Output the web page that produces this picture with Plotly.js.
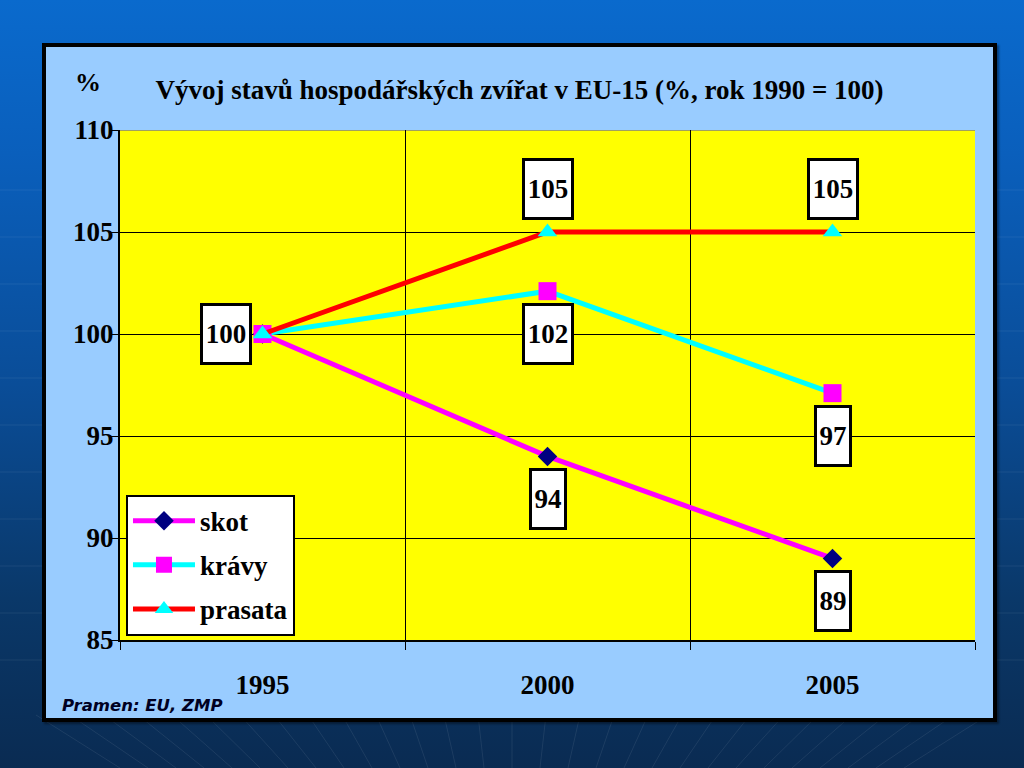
<!DOCTYPE html>
<html>
<head>
<meta charset="utf-8">
<script src="https://cdn.plot.ly/plotly-3.0.1.min.js"></script>
<style>
  html, body { margin: 0; padding: 0; width: 1024px; height: 768px; overflow: hidden; }
  body { background: linear-gradient(to bottom, #0a6acd 0%, #0a5fbc 20%, #0a4d98 50%, #0a3869 78%, #0a2b52 100%); position: relative; }
  #bg { position: absolute; left: 0; top: 0; }
  #chart { position: absolute; left: 42px; top: 43px; width: 947px; height: 671px; border: 4px solid #000; background: #99ccff; box-shadow: 2px 2px 2px rgba(0,0,0,0.4); }
</style>
</head>
<body>
<svg id="bg" width="1024" height="768"></svg>
<div id="chart"></div>
<script>
// ---- data ----
const categories = ['1995', '2000', '2005'];
const seriesNames = ['skot', 'krávy', 'prasata'];
const skot = [100, 94, 89];
const kravy = [100, 102.1, 97.1];
const prasata = [100, 105, 105];
const yTickVals = [85, 90, 95, 100, 105, 110];
const titleText = 'Vývoj stavů hospodářských zvířat v EU-15 (%, rok 1990 = 100)';
const unitText = '%';
const sourceText = 'Pramen: EU, ZMP';

// ---- decorative slide background (faint lines) ----
(function () {
  const svg = document.getElementById('bg');
  let s = '';
  for (let y = 190; y < 700; y += 47) {
    s += '<line x1="0" y1="' + y + '" x2="1024" y2="' + y + '" stroke="rgba(255,255,255,0.07)" stroke-width="1"/>';
  }
  for (let k = -14; k <= 14; k++) {
    const xt = 512 + k * 34;
    const xb = 512 + k * 28;
    s += '<line x1="' + xt + '" y1="715" x2="' + xb + '" y2="768" stroke="rgba(255,255,255,0.08)" stroke-width="1"/>';
  }
  svg.innerHTML = s;
})();

// ---- styling ----
const serif = 'Liberation Serif, Times New Roman, serif';
const xIdx = categories.map((c, i) => i);

const styles = [
  { line: '#ff00ff', marker: '#000080', symbol: 'diamond', size: 15 },
  { line: '#00ffff', marker: '#ff00ff', symbol: 'square', size: 18 },
  { line: '#ff0000', marker: '#00ffff', symbol: 'triangle-up', size: 17 }
];
const seriesData = [skot, kravy, prasata];

const traces = seriesData.map((vals, s) => ({
  type: 'scatter',
  mode: 'lines+markers',
  x: xIdx,
  y: vals,
  name: '<b>' + seriesNames[s] + '</b>',
  legendgroup: 'g' + s,
  line: { color: styles[s].line, width: 5 },
  marker: { color: styles[s].marker, symbol: styles[s].symbol, size: styles[s].size, line: { width: 0 } },
  hoverinfo: 'x+y'
}));

// label placement per series and category
const labelPlacement = [
  [null, 'below', 'below'],
  [null, 'below', 'below'],
  ['left', 'above', 'above']
];

const annotations = [];
seriesData.forEach((vals, s) => {
  vals.forEach((v, i) => {
    const p = labelPlacement[s][i];
    if (!p) return;
    const txt = String(Math.round(v));
    annotations.push({
      xref: 'x', yref: 'y', x: i, y: v,
      text: '<b>' + txt + '</b>',
      showarrow: false,
      font: { family: serif, size: 27, color: '#000' },
      bgcolor: '#ffffff',
      bordercolor: '#000000',
      borderwidth: 3,
      borderpad: 0,
      width: txt.length === 3 ? 46 : 32,
      height: 56,
      xanchor: 'center', yanchor: 'middle',
      xshift: p === 'left' ? -37 : 0,
      yshift: p === 'above' ? 43 : (p === 'below' ? -43 : 0)
    });
  });
});

annotations.push({
  xref: 'paper', yref: 'paper', x: -0.037, y: 1.093,
  text: '<b>' + unitText + '</b>', showarrow: false,
  font: { family: serif, size: 26, color: '#000' },
  xanchor: 'center', yanchor: 'middle'
});
annotations.push({
  xref: 'paper', yref: 'paper', x: -0.07, y: -0.129,
  text: '<b><i>' + sourceText + '</i></b>', showarrow: false,
  font: { family: 'DejaVu Sans, Verdana, sans-serif', size: 16.5, color: '#000022' },
  xanchor: 'left', yanchor: 'middle'
});

const layout = {
  width: 947, height: 671,
  margin: { l: 74, r: 18, t: 83, b: 78 },
  paper_bgcolor: '#99ccff',
  plot_bgcolor: '#ffff00',
  font: { family: serif },
  showlegend: true,
  title: {
    text: '<b>' + titleText + '</b>',
    font: { family: serif, size: 27, color: '#000' },
    x: 0.5, xref: 'container', xanchor: 'center',
    y: 0.936, yref: 'container', yanchor: 'middle'
  },
  xaxis: {
    range: [-0.5, 2.5],
    tickmode: 'array', tickvals: xIdx, ticktext: categories.map(c => '<b>' + c + '</b>'),
    ticks: '', showgrid: false, zeroline: false,
    showline: true, linecolor: '#000', linewidth: 2,
    tickfont: { family: serif, size: 27, color: '#000' },
    ticklabelstandoff: 20,
    minor: { tick0: -0.5, dtick: 1, ticks: 'outside', ticklen: 8, tickwidth: 1, tickcolor: '#000', showgrid: true, gridcolor: '#000', gridwidth: 1 },
    fixedrange: true
  },
  yaxis: {
    range: [85, 110],
    tickmode: 'array', tickvals: yTickVals, ticktext: yTickVals.map(v => '<b>' + v + '</b>'),
    ticks: 'outside', ticklen: 7, tickwidth: 1, tickcolor: '#000',
    showgrid: true, gridcolor: '#000', gridwidth: 1, zeroline: false,
    showline: true, linecolor: '#000', linewidth: 2,
    tickfont: { family: serif, size: 27, color: '#000' },
    ticklabelstandoff: -8,
    fixedrange: true
  },
  shapes: [{
    type: 'line', xref: 'paper', yref: 'y', x0: 0, x1: 1, y0: 110, y1: 110,
    line: { color: '#808080', width: 1.5 }, layer: 'below'
  }],
  legend: {
    x: 0.007, y: 0.285, xanchor: 'left', yanchor: 'top',
    bgcolor: '#ffffff', bordercolor: '#000', borderwidth: 2,
    font: { family: serif, size: 27, color: '#000' },
    traceorder: 'grouped', tracegroupgap: 6,
    itemwidth: 62
  },
  annotations: annotations
};

Plotly.newPlot('chart', traces, layout, { displayModeBar: false, staticPlot: true });
</script>
</body>
</html>
